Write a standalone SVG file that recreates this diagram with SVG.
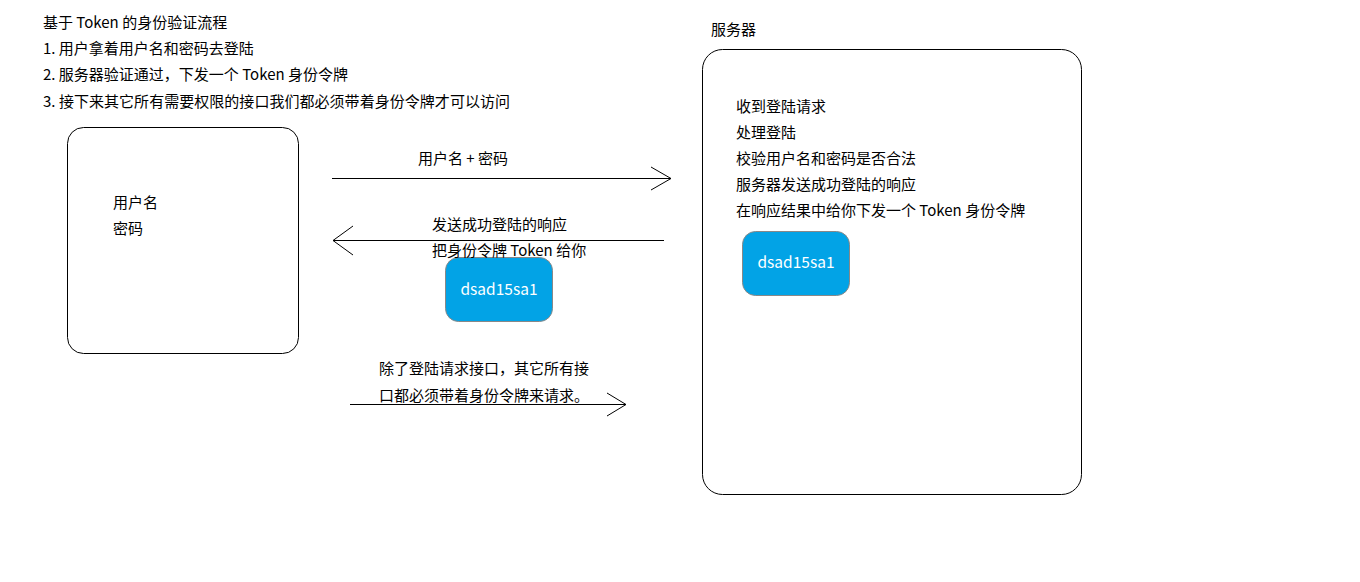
<svg xmlns="http://www.w3.org/2000/svg" width="1360" height="582" viewBox="0 0 1360 582">
  <style>
    text { font-family: "Noto Sans CJK SC", "Liberation Sans", sans-serif; font-size: 15px; fill: #000; dominant-baseline: central; }
    .box { fill: #fff; stroke: #000; stroke-width: 1; }
    .token { fill: #02a3e6; stroke: #888; stroke-width: 1; }
    .token-text { fill: #fff; text-anchor: middle; font-size: 15.5px; }
    .conn { fill: none; stroke: #000; stroke-width: 1; }
  </style>
  <rect width="1360" height="582" fill="#fff"/>

  <g id="intro">
    <text x="43" y="21">基于 Token 的身份验证流程</text>
    <text x="43" y="47">1. 用户拿着用户名和密码去登陆</text>
    <text x="43" y="73">2. 服务器验证通过，下发一个 Token 身份令牌</text>
    <text x="43" y="100" textLength="467">3. 接下来其它所有需要权限的接口我们都必须带着身份令牌才可以访问</text>
  </g>

  <g id="client">
    <rect class="box" x="67.5" y="127.5" width="231" height="226" rx="16"/>
    <text x="113" y="201">用户名</text>
    <text x="113" y="227">密码</text>
  </g>

  <g id="server">
    <text x="711" y="28">服务器</text>
    <rect class="box" x="702.5" y="49.5" width="379" height="445" rx="20"/>
    <text x="736" y="105">收到登陆请求</text>
    <text x="736" y="131">处理登陆</text>
    <text x="736" y="157">校验用户名和密码是否合法</text>
    <text x="736" y="183">服务器发送成功登陆的响应</text>
    <text x="736" y="209">在响应结果中给你下发一个 Token 身份令牌</text>
  </g>

  <g id="server-token">
    <rect class="token" x="742.5" y="231.5" width="107" height="64" rx="13"/>
    <text class="token-text" x="796" y="261">dsad15sa1</text>
  </g>

  <g id="response-token">
    <rect class="token" x="445.5" y="257.5" width="107" height="64" rx="13"/>
    <text class="token-text" x="499" y="288">dsad15sa1</text>
  </g>

  <g id="connectors">
    <!-- login request -->
    <line class="conn" x1="332" y1="178.5" x2="671" y2="178.5"/>
    <polyline class="conn" points="651,167 671,178.5 651,190"/>
    <!-- login response -->
    <line class="conn" x1="664" y1="240.5" x2="333" y2="240.5"/>
    <polyline class="conn" points="353,226 333,240.5 353,255"/>
    <!-- later requests carrying the token -->
    <line class="conn" x1="350" y1="404.5" x2="626" y2="404.5"/>
    <polyline class="conn" points="607,393 626,404.5 607,416"/>
  </g>

  <g id="labels">
    <text x="418" y="157">用户名 + 密码</text>
    <text x="432" y="223">发送成功登陆的响应</text>
    <text x="432" y="249">把身份令牌 Token 给你</text>
    <text x="379" y="367">除了登陆请求接口，其它所有接</text>
    <text x="379" y="394">口都必须带着身份令牌来请求。</text>
  </g>
</svg>
